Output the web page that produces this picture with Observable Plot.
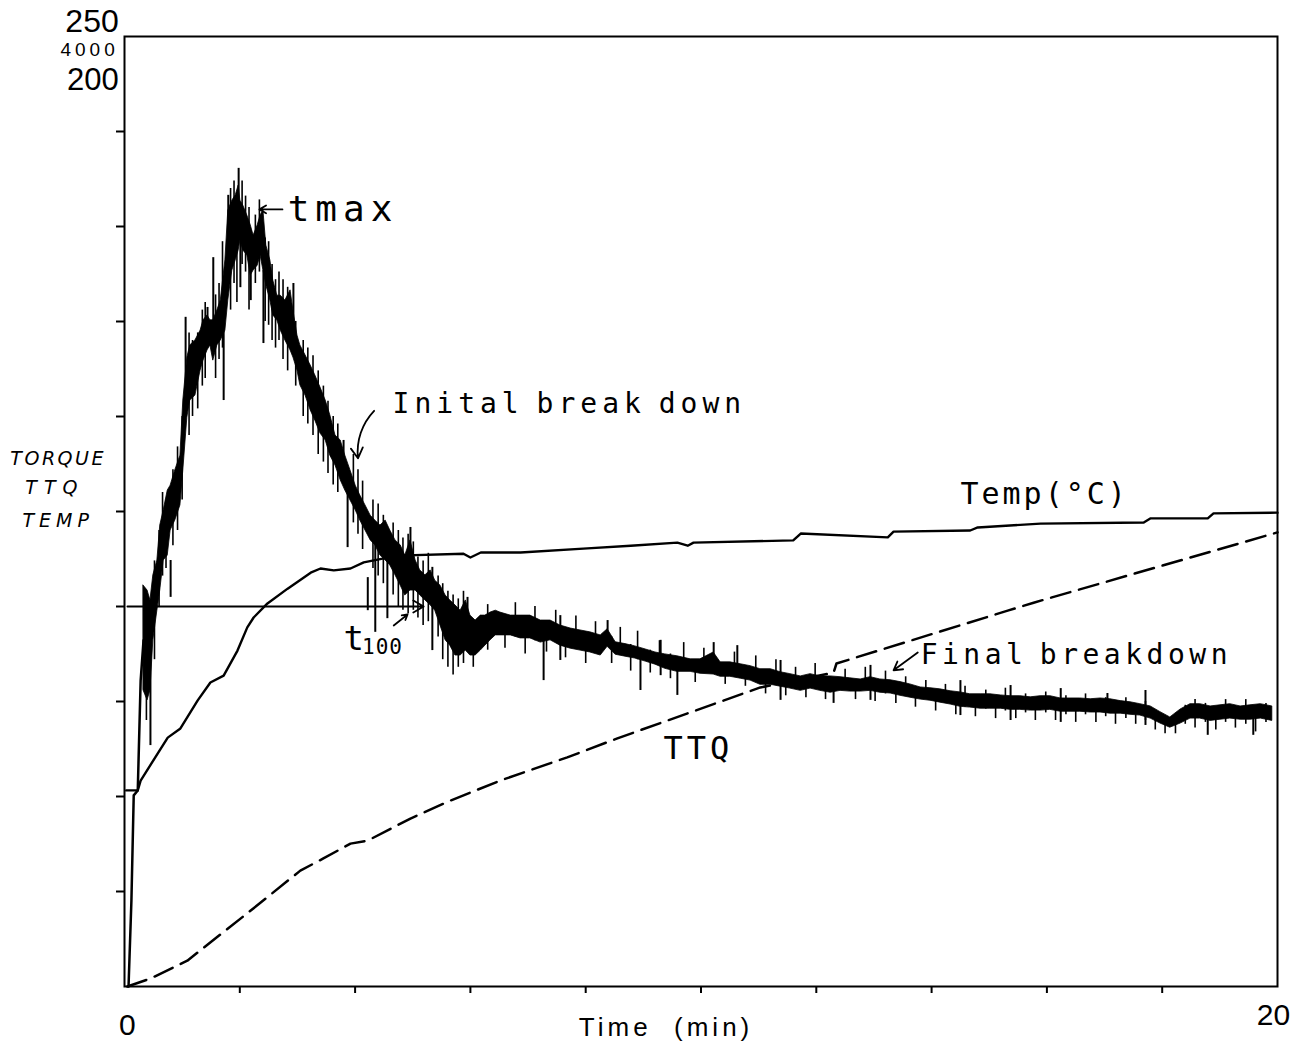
<!DOCTYPE html>
<html>
<head>
<meta charset="utf-8">
<script src="https://cdn.jsdelivr.net/npm/d3@7"></script>
<script src="https://cdn.jsdelivr.net/npm/@observablehq/plot@0.6"></script>
<style>
  html, body { margin: 0; padding: 0; background: #fff; }
  #chart svg { display: block; }
</style>
</head>
<body>
<div id="chart"></div>
<script>
// ---------- axis ticks ----------
const xTicks = [2, 4, 6, 8, 10, 12, 14, 16, 18];
const yTicks = [25, 50, 75, 100, 125, 150, 175, 200, 225];

// ---------- Temperature (solid) ----------
const tempT = [0.03,0.23,0.28,0.75,0.97,1.27,1.49,1.72,1.96,2.13,2.24,2.48,2.83,3.23,3.40,3.63,3.92,4.15,4.74,5.88,6.00,6.18,6.87,8.03,8.78,9.59,9.77,9.87,11.60,11.73,13.24,13.34,14.67,14.80,15.89,17.68,17.80,18.79,18.89,20.0];
const tempV = [51.6,51.6,54.2,65.5,67.9,75.3,80.0,81.8,88.4,94.5,97.1,100.8,104.7,108.9,110.0,109.5,110.0,111.6,113.4,113.9,112.9,114.2,114.2,115.3,116.0,116.8,116.0,116.8,117.4,119.2,118.2,119.7,120.0,120.8,121.8,122.1,123.2,123.2,124.5,124.7];

// ---------- TTQ (dashed) ----------
const ttqT = [0.05,0.45,1.09,2.19,3.05,3.45,3.92,4.22,4.96,5.65,6.52,7.68,8.55,9.42,10.29,11.03,12.30,12.35,15.32,15.77,20.0];
const ttqV = [0,2.1,6.8,20.0,30.5,33.7,37.6,38.4,44.2,48.9,54.2,60.3,65.3,70.0,74.7,78.7,82.6,85.0,98.9,101.0,119.5];

// ---------- Torque: initial rise ----------
const riseT = [0.07,0.12,0.16,0.23,0.28,0.33];
const riseV = [0,22.6,50.3,51.6,80.5,91.1];

// ---------- Torque: noisy band [time, low, high] ----------
const torqueSamples = [
 [0.33,77.9,105.5],[0.40,75.3,104.2],[0.45,77.9,101.6],[0.50,91.1,108.2],[0.57,98.9,112.1],
 [0.62,104.2,121.3],[0.68,112.1,125.3],[0.75,113.4,130.5],[0.80,120.0,131.8],[0.88,122.6,135.8],
 [0.97,126.6,139.7],[1.02,135.8,154.2],[1.09,149.7,165.5],[1.14,154.2,168.7],[1.23,155.5,170.0],
 [1.32,162.1,172.6],[1.37,164.7,175.3],[1.44,167.4,176.6],[1.49,168.7,175.3],[1.54,164.7,175.3],
 [1.61,168.7,177.9],[1.67,170.0,180.5],[1.75,172.6,191.1],[1.80,180.5,204.2],[1.87,188.4,206.8],
 [1.93,191.1,208.2],[1.98,193.7,210.8],[2.01,196.3,206.8],[2.06,193.7,205.5],[2.13,192.4,202.9],
 [2.19,187.1,200.3],[2.24,188.4,197.6],[2.31,189.7,200.3],[2.36,192.4,202.9],[2.41,188.4,204.2],
 [2.46,184.5,195.0],[2.53,180.5,191.1],[2.58,176.6,185.8],[2.65,175.3,181.8],[2.71,172.6,181.8],
 [2.79,170.0,180.5],[2.88,167.4,183.2],[2.93,165.5,177.9],[3.00,162.1,171.3],[3.05,158.2,168.7],
 [3.14,155.5,166.1],[3.23,151.6,163.4],[3.31,148.9,160.8],[3.40,145.5,157.6],[3.49,143.7,154.2],
 [3.57,139.7,150.3],[3.66,137.1,145.0],[3.75,133.2,143.7],[3.83,130.5,139.7],[3.92,127.9,135.8],
 [4.01,125.3,131.8],[4.09,122.6,129.2],[4.18,120.0,126.6],[4.27,117.4,123.9],[4.35,116.1,122.6],
 [4.44,113.4,121.3],[4.53,112.1,122.6],[4.61,110.8,120.0],[4.70,108.2,117.4],[4.79,105.5,116.1],
 [4.87,102.9,113.4],[4.96,104.2,117.4],[5.05,104.2,112.1],[5.13,102.9,109.5],[5.22,101.6,108.2],
 [5.31,100.3,109.5],[5.39,98.9,106.8],[5.48,95.0,105.5],[5.57,91.1,102.9],[5.65,89.7,101.6],
 [5.74,87.1,100.3],[5.83,87.1,98.9],[5.92,88.4,101.6],[6.00,87.1,97.6],[6.09,87.1,96.3],
 [6.18,88.4,97.6],[6.26,89.7,97.6],[6.35,91.1,98.4],[6.44,92.4,98.9],[6.52,92.4,98.4],
 [6.70,92.4,97.6],[6.87,91.6,97.6],[7.04,91.6,97.6],[7.22,90.5,96.3],[7.39,91.1,96.3],
 [7.56,89.7,95.0],[7.74,88.9,94.2],[7.91,88.4,93.7],[8.08,87.9,93.2],[8.26,87.1,92.4],
 [8.38,89.4,94.0],[8.52,87.3,90.6],[8.69,86.8,90.1],[8.86,86.3,89.5],[9.04,85.5,88.7],
 [9.21,84.7,87.9],[9.38,83.6,87.4],[9.59,82.8,86.9],[9.82,82.8,86.1],[9.99,82.3,86.1],
 [10.22,82.1,87.9],[10.34,81.5,85.3],[10.51,81.5,85.3],[10.69,81.0,84.8],[10.86,80.5,84.3],
 [11.03,79.4,83.5],[11.21,79.4,83.5],[11.38,78.9,82.7],[11.55,78.4,82.2],[11.73,77.8,81.6],
 [11.90,78.4,82.2],[12.07,77.8,81.6],[12.25,77.3,81.6],[12.42,77.8,81.4],[12.59,77.6,81.1],
 [12.77,77.6,80.8],[12.94,77.8,81.4],[13.11,77.3,80.8],[13.29,77.1,80.6],[13.46,76.5,80.1],
 [13.63,76.0,79.5],[13.81,75.5,78.7],[13.98,75.2,78.5],[14.15,74.7,78.2],[14.33,74.2,77.7],
 [14.50,73.6,77.4],[14.67,73.4,76.9],[14.85,73.1,76.9],[15.02,73.1,76.9],[15.20,73.1,76.6],
 [15.37,72.8,76.4],[15.54,72.8,76.4],[15.72,72.6,76.1],[15.89,72.6,76.4],[16.06,72.8,76.4],
 [16.24,72.3,75.8],[16.41,72.3,75.8],[16.58,72.3,75.8],[16.76,72.1,75.6],[16.93,72.1,75.8],
 [17.10,71.8,75.6],[17.28,71.8,75.1],[17.45,71.5,74.8],[17.62,71.3,74.3],[17.80,70.5,73.7],
 [17.97,69.2,72.2],[18.14,68.1,70.8],[18.32,69.2,72.9],[18.49,70.5,74.3],[18.66,70.5,74.3],
 [18.84,69.9,73.7],[19.01,70.2,74.0],[19.18,70.5,74.3],[19.36,70.2,73.7],[19.53,70.2,74.0],
 [19.71,70.5,74.3],[19.91,69.9,73.7]
];

// ---------- Torque: large noise spikes ----------
const spikeT  = [0.45,0.80,1.06,1.44,1.54,1.72,1.80,1.98,2.01,2.19,2.41,2.93,3.80,3.87,4.22,4.35,4.56,4.96,5.34,5.95,7.27,7.56,8.38,8.95,9.30,9.59,10.22,10.63,11.38,12.30,12.94,14.50,15.37,16.24,17.05,17.71,18.79,19.58];
const spikeLo = [63.4,102.4,154.2,170.0,172.6,154.2,191.1,198.9,183.9,180.5,169.2,172.6,135.8,115.5,98.9,93.2,96.8,109.5,88.4,93.7,80.5,85.8,91.1,77.9,81.8,76.6,85.8,84.5,75.3,74.5,75.3,71.3,70.0,69.5,73.9,68.7,66.1,66.1];
const spikeHi = [91.1,112.1,176.1,178.7,191.8,172.6,208.2,215.3,198.9,198.9,188.4,185.0,143.7,135.8,107.6,117.4,116.1,120.8,110.3,102.4,93.7,97.6,96.3,88.4,91.1,85.8,90.5,89.7,85.8,80.5,84.5,80.5,79.2,78.4,77.1,77.9,71.3,71.3];

// ---------- Torque: fine noise [time, low, high] ----------
const fineNoise = [
 [0.38,70,100],[0.52,86,112],[0.60,100,120],[0.66,108,130],[0.72,110,128],[0.84,116,136],[0.92,120,142],
 [1.00,128,150],[1.12,145,172],[1.18,150,170],[1.27,152,172],[1.35,158,178],[1.40,160,180],[1.58,160,182],
 [1.64,165,185],[1.70,168,196],[1.84,178,210],[1.90,185,212],[1.95,180,208],[2.04,190,212],[2.10,188,208],
 [2.16,178,205],[2.27,185,203],[2.34,188,207],[2.44,175,197],[2.50,174,196],[2.56,170,190],[2.62,168,186],
 [2.68,170,188],[2.75,165,186],[2.83,162,184],[2.97,158,175],[3.10,150,170],[3.18,148,168],[3.27,145,166],
 [3.36,140,162],[3.45,138,158],[3.53,135,154],[3.62,132,150],[3.70,130,148],[3.97,122,140],[4.05,119,136],
 [4.13,115,133],[4.31,110,128],[4.40,108,127],[4.49,106,124],[4.66,103,122],[4.75,100,120],[4.83,99,118],
 [4.92,98,119],[5.01,99,117],[5.09,97,113],[5.18,95,112],[5.27,96,114],[5.44,92,108],[5.52,86,106],
 [5.61,84,104],[5.70,82,103],[5.79,84,102],[5.88,85,104],
 [6.05,84.0,96.0],[6.30,88.5,100.5],[6.60,89.0,96.0],[6.78,92.0,101.0],[6.95,87.5,95.0],[7.12,91.0,100.0],
 [7.32,88.0,95.0],[7.48,91.0,99.0],[7.65,86.5,94.0],[7.83,89.0,97.5],[8.00,85.0,92.5],[8.17,88.0,96.0],
 [8.45,85.0,92.0],[8.60,87.5,94.5],[8.78,83.0,90.0],[8.90,86.0,93.5],[9.12,82.5,88.5],[9.28,85.5,91.0],
 [9.47,81.0,87.5],[9.70,83.0,90.5],[9.90,80.0,85.5],[10.05,83.0,89.0],[10.42,79.5,85.0],[10.58,82.0,88.0],
 [10.77,79.0,84.0],[10.95,81.0,87.0],[11.12,77.0,83.0],[11.30,80.0,86.0],[11.47,76.5,82.0],[11.64,79.0,84.0],
 [11.82,76.0,81.5],[11.98,78.5,85.0],[12.16,75.5,80.5],[12.50,78.0,83.5],[12.68,75.5,80.5],[12.85,78.0,84.0],
 [13.02,75.0,80.5],[13.20,77.0,83.0],[13.38,74.5,79.5],[13.55,76.5,81.5],[13.72,73.5,78.0],[13.90,75.5,80.5],
 [14.07,72.5,77.0],[14.24,74.5,79.5],[14.42,71.5,76.0],[14.58,73.5,79.0],[14.76,71.0,75.5],[14.94,73.0,78.0],
 [15.11,70.5,75.0],[15.28,72.5,78.5],[15.46,70.5,75.0],[15.63,72.0,77.0],[15.80,70.0,74.5],[15.98,72.0,77.5],
 [16.15,70.0,74.5],[16.33,71.5,76.5],[16.50,69.5,74.0],[16.67,71.5,77.0],[16.85,69.5,74.0],[17.02,71.0,76.0],
 [17.19,69.0,73.5],[17.37,70.5,76.0],[17.54,69.0,73.5],[17.71,70.0,75.0],[17.88,67.5,72.0],[18.05,66.5,71.0],
 [18.23,66.5,71.5],[18.40,69.0,74.0],[18.57,68.0,75.5],[18.75,69.5,74.5],[18.93,67.5,73.5],[19.10,69.5,75.5],
 [19.27,68.0,73.0],[19.45,69.0,75.5],[19.62,67.0,73.0],[19.80,69.5,74.5]
];

// ---------- annotations ----------
const annoText = ["tmax", "Inital break down", "Temp(°C)", "Final breakdown", "TTQ"];
const annoT    = [2.83, 4.65, 14.50, 13.81, 9.35];
const annoV    = [204.4, 153.2, 129.4, 87.1, 62.6];
const annoSize = [36, 28, 30, 28, 32];

const arrowX1 = [0.05, 2.74, 4.33, 13.76, 4.67];
const arrowY1 = [100, 204.5, 151.5, 87.9, 95.0];
const arrowX2 = [5.19, 2.34, 4.05, 13.34, 4.91];
const arrowY2 = [100, 204.5, 139.0, 83.2, 97.9];
const arrowHead = [10, 10, 10, 8, 6];
const arrowBend = [0, 0, -25, 0, 0];

const sideText = ["TORQUE", "TTQ", "TEMP"];
const sideT = [-1.98, -1.72, -1.77];
const sideV = [138.9, 131.1, 122.6];

const topText = ["250", "4000", "200"];
const topV = [254.0, 246.6, 238.6];
const topSize = [32, 19, 31];

const xLabelText = ["0", "20"];
const xLabelT = [0.05, 19.93];
const xLabelV = [-10.3, -7.6];

// ---------- build rows ----------
const tempRows = tempT.map((t, i) => ({t, v: tempV[i]}));
const ttqRows = ttqT.map((t, i) => ({t, v: ttqV[i]}));
const riseRows = riseT.map((t, i) => ({t, v: riseV[i]}));
const torqueRows = torqueSamples.map(([t, lo, hi]) => ({t, lo, hi}));
const spikeRows = spikeT.map((t, i) => ({t, lo: spikeLo[i], hi: spikeHi[i]}));
const fineRows = fineNoise.map(([t, lo, hi]) => ({t, lo, hi}));
const annoRows = annoText.map((text, i) => ({text, t: annoT[i], v: annoV[i], size: annoSize[i]}));
const arrowRows = arrowX1.map((x1, i) => ({x1, y1: arrowY1[i], x2: arrowX2[i], y2: arrowY2[i], head: arrowHead[i], bend: arrowBend[i]}));
const sideRows = sideText.map((text, i) => ({text, t: sideT[i], v: sideV[i]}));
const topRows = topText.map((text, i) => ({text, t: -0.10, v: topV[i], size: topSize[i]}));
const xLabelRows = xLabelText.map((text, i) => ({text, t: xLabelT[i], v: xLabelV[i]}));

const mono = "DejaVu Sans Mono, Liberation Mono, monospace";
const sans = "Liberation Sans, Arial, sans-serif";

const marks = [
  Plot.frame({stroke: "black", strokeWidth: 2}),
  Plot.line(tempRows, {x: "t", y: "v", stroke: "black", strokeWidth: 2.4}),
  Plot.line(ttqRows, {x: "t", y: "v", stroke: "black", strokeWidth: 2.5, strokeDasharray: "20,9"}),
  Plot.line(riseRows, {x: "t", y: "v", stroke: "black", strokeWidth: 2.5}),
  Plot.areaY(torqueRows, {x: "t", y1: "lo", y2: "hi", fill: "black", stroke: "black", strokeWidth: 0.8}),
  Plot.ruleX(fineRows, {x: "t", y1: "lo", y2: "hi", stroke: "black", strokeWidth: 1.6}),
  Plot.ruleX(spikeRows, {x: "t", y1: "lo", y2: "hi", stroke: "black", strokeWidth: 2})
];
arrowRows.forEach(a => {
  marks.push(Plot.arrow([a], {x1: "x1", y1: "y1", x2: "x2", y2: "y2", bend: a.bend, headLength: a.head, stroke: "black", strokeWidth: 1.8}));
});
annoRows.forEach(a => {
  marks.push(Plot.text([a], {x: "t", y: "v", text: "text", textAnchor: "start", lineAnchor: "middle", fontFamily: mono, fontSize: a.size, fill: "black"}));
});
marks.push(Plot.text([{text: "t", t: 3.80, v: 91.5}], {x: "t", y: "v", text: "text", textAnchor: "start", lineAnchor: "middle", fontFamily: mono, fontSize: 34, fill: "black"}));
marks.push(Plot.text([{text: "100", t: 4.12, v: 89.2}], {x: "t", y: "v", text: "text", textAnchor: "start", lineAnchor: "middle", fontFamily: mono, fontSize: 21, fill: "black"}));
marks.push(Plot.text(sideRows, {x: "t", y: "v", text: "text", textAnchor: "start", lineAnchor: "middle", fontFamily: "DejaVu Sans, sans-serif", fontStyle: "italic", fontSize: 19, fill: "black"}));
topRows.forEach(a => {
  marks.push(Plot.text([a], {x: "t", y: "v", text: "text", textAnchor: "end", lineAnchor: "middle", fontFamily: sans, fontSize: a.size, fill: "black"}));
});
marks.push(Plot.text(xLabelRows, {x: "t", y: "v", text: "text", textAnchor: "middle", lineAnchor: "middle", fontFamily: sans, fontSize: 30, fill: "black"}));
marks.push(Plot.text([{text: "Time  (min)", t: 7.88, v: -10.8}], {x: "t", y: "v", text: "text", textAnchor: "start", lineAnchor: "middle", fontFamily: sans, fontSize: 26, fill: "black"}));

const svg = Plot.plot({
  width: 1312,
  height: 1046,
  marginLeft: 124,
  marginRight: 35,
  marginTop: 36,
  marginBottom: 60,
  style: {background: "white", color: "black", fontFamily: sans},
  x: {domain: [0, 20], ticks: xTicks, tickSize: 7, tickFormat: () => "", label: null},
  y: {domain: [0, 250], ticks: yTicks, tickSize: 8, tickFormat: () => "", label: null},
  marks
});

// letter spacing to mimic the lettering-guide look
const spacing = {
  "tmax|36": 6, "Inital break down|28": 5, "Temp(°C)|30": 3, "Final breakdown|28": 4.5,
  "TTQ|32": 4, "TORQUE|19": 2.5, "TTQ|19": 7, "TEMP|19": 5, "4000|19": 4, "Time  (min)|26": 4,
  "100|21": 1
};
const wordSpacing = {"Inital break down|28": -9, "Final breakdown|28": -9};
svg.querySelectorAll("text").forEach(el => {
  const fs = el.getAttribute("font-size") || (el.parentNode && el.parentNode.getAttribute("font-size"));
  const key = el.textContent + "|" + fs;
  if (spacing[key] != null) el.setAttribute("letter-spacing", spacing[key]);
  if (wordSpacing[key] != null) el.setAttribute("word-spacing", wordSpacing[key]);
});
svg.querySelectorAll('[aria-label^="x-axis"], [aria-label^="y-axis"]').forEach(g => g.setAttribute("stroke-width", 2));

document.getElementById("chart").appendChild(svg);
</script>
</body>
</html>
